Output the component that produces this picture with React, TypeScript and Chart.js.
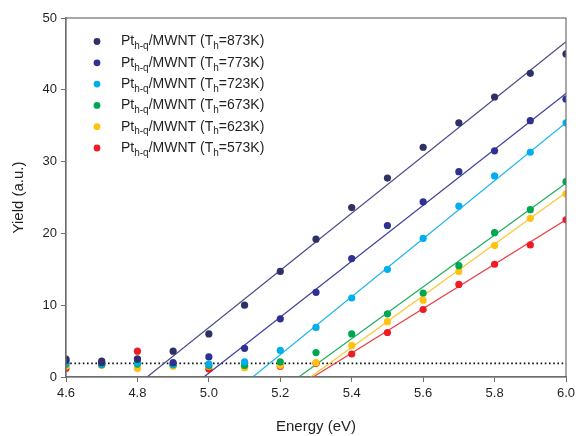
import React, { useEffect, useRef } from "react";
import { Chart, registerables } from "chart.js";

Chart.register(...registerables);

const ENERGY = [4.6, 4.7, 4.8, 4.9, 5.0, 5.1, 5.2, 5.3, 5.4, 5.5, 5.6, 5.7, 5.8, 5.9, 6.0];
const X_TICKS = [4.6, 4.8, 5.0, 5.2, 5.4, 5.6, 5.8, 6.0];
const Y_TICKS = [0, 10, 20, 30, 40, 50];

const TEMPS = ["873K", "773K", "723K", "673K", "623K", "573K"];
const COLORS = ["#2e3165", "#2e3192", "#00aeef", "#00a651", "#ffc20e", "#ed1c24"];
const LINE_COLORS = ["#4b4a86", "#3c3f9c", "#1cb5ef", "#1eae5c", "#ffc62e", "#ee3a40"];

const Y873 = [2.5, 2.2, 2.5, 3.6, 6.0, 10.0, 14.7, 19.2, 23.6, 27.7, 32.0, 35.4, 39.0, 42.3, 45.0];
const Y773 = [2.3, 2.0, 2.5, 2.0, 2.8, 4.0, 8.1, 11.8, 16.5, 21.1, 24.4, 28.6, 31.5, 35.7, 38.7];
const Y723 = [2.0, 1.8, 2.0, 1.8, 1.8, 2.1, 3.7, 6.9, 11.0, 15.0, 19.3, 23.8, 28.0, 31.3, 35.4];
const Y673 = [1.8, 1.7, 1.8, 1.7, 1.6, 1.6, 2.1, 3.4, 6.0, 8.8, 11.7, 15.5, 20.1, 23.3, 27.2];
const Y623 = [1.5, 1.6, 1.2, 1.5, 1.5, 1.3, 1.6, 2.0, 4.4, 7.7, 10.7, 14.7, 18.3, 22.1, 25.5];
const Y573 = [1.2, 1.7, 3.6, 1.6, 1.1, 1.5, 1.5, 1.9, 3.2, 6.2, 9.4, 12.9, 15.7, 18.4, 21.9];
const SERIES = [Y873, Y773, Y723, Y673, Y623, Y573];

// linear fits: [x at yield 0, yield at 6.0 eV]
const FIT_X0 = [4.827, 4.986, 5.123, 5.252, 5.285, 5.292];
const FIT_Y_END = [46.7, 39.5, 35.4, 27.0, 25.7, 21.9];

const BASELINE = 1.9;

export default function App() {
  const ref = useRef<HTMLCanvasElement | null>(null);

  useEffect(() => {
    document.body.style.margin = "0";
    const canvas = ref.current;
    if (!canvas) return;

    const datasets: any[] = [];
    SERIES.forEach((ys, i) => {
      datasets.push({
        type: "scatter",
        label: TEMPS[i],
        data: ENERGY.map((x, k) => ({ x, y: ys[k] })),
        backgroundColor: COLORS[i],
        borderColor: COLORS[i],
        pointRadius: 3.6,
        pointBorderWidth: 0,
        showLine: false,
        order: 1,
      });
    });
    SERIES.forEach((_, i) => {
      datasets.push({
        type: "line",
        label: "fit " + TEMPS[i],
        data: [
          { x: FIT_X0[i], y: 0 },
          { x: 6.0, y: FIT_Y_END[i] },
        ],
        borderColor: LINE_COLORS[i],
        borderWidth: 1.2,
        pointRadius: 0,
        fill: false,
        order: 2,
      });
    });
    datasets.push({
      type: "line",
      label: "baseline",
      data: [
        { x: 4.6, y: BASELINE },
        { x: 6.0, y: BASELINE },
      ],
      borderColor: "#111111",
      borderWidth: 1.6,
      borderDash: [1.6, 2.6],
      pointRadius: 0,
      fill: false,
      order: 3,
    });

    const framePlugin = {
      id: "frame",
      afterDraw(chart: any) {
        const { ctx, chartArea } = chart;
        const { left, right, top, bottom } = chartArea;
        ctx.save();
        ctx.strokeStyle = "#6d6e71";
        ctx.lineWidth = 1.2;
        ctx.strokeRect(left, top, right - left, bottom - top);
        ctx.restore();

        // legend
        ctx.save();
        const x0 = 97;
        const tx = 121;
        const y0 = 41.5;
        const dy = 21.3;
        TEMPS.forEach((t, i) => {
          const y = y0 + i * dy;
          ctx.fillStyle = COLORS[i];
          ctx.beginPath();
          ctx.arc(x0, y, 3.4, 0, Math.PI * 2);
          ctx.fill();
          ctx.fillStyle = "#231f20";
          ctx.textBaseline = "middle";
          ctx.textAlign = "left";
          const big = "14px 'Liberation Sans', Arial, sans-serif";
          const small = "10px 'Liberation Sans', Arial, sans-serif";
          let x = tx;
          const parts: [string, boolean][] = [
            ["Pt", false],
            ["h-q", true],
            ["/MWNT (T", false],
            ["h", true],
            ["=" + t + ")", false],
          ];
          parts.forEach(([s, sub]) => {
            ctx.font = sub ? small : big;
            ctx.fillText(s, x, sub ? y + 5 : y);
            x += ctx.measureText(s).width;
          });
        });
        ctx.restore();
      },
    };

    const tickFont = { family: "'Liberation Sans', Arial, sans-serif", size: 13 };
    const titleFont = { family: "'Liberation Sans', Arial, sans-serif", size: 15 };

    const chart = new Chart(canvas, {
      type: "scatter",
      data: { datasets },
      plugins: [framePlugin],
      options: {
        animation: false,
        responsive: false,
        maintainAspectRatio: false,
        layout: { padding: { top: 18, right: 10, left: 0, bottom: 0 } },
        plugins: { legend: { display: false }, tooltip: { enabled: false } },
        scales: {
          x: {
            type: "linear",
            min: 4.6,
            max: 6.0,
            afterBuildTicks: (scale: any) => {
              scale.ticks = X_TICKS.map((v) => ({ value: v }));
            },
            afterFit: (scale: any) => {
              scale.height = 59;
              scale.paddingLeft = 0;
              scale.paddingRight = 0;
            },
            ticks: {
              callback: (v: any) => Number(v).toFixed(1),
              color: "#231f20",
              font: tickFont,
              padding: 4,
              maxRotation: 0,
            },
            grid: {
              display: true,
              drawOnChartArea: false,
              drawTicks: true,
              tickLength: 5,
              color: "#6d6e71",
            },
            border: { display: true, color: "#6d6e71", width: 1.2 },
            title: {
              display: true,
              text: "Energy (eV)",
              color: "#231f20",
              font: titleFont,
              padding: { top: 0, bottom: 0 },
            },
          },
          y: {
            type: "linear",
            min: 0,
            max: 50,
            afterBuildTicks: (scale: any) => {
              scale.ticks = Y_TICKS.map((v) => ({ value: v }));
            },
            afterFit: (scale: any) => {
              scale.width = 66;
              scale.paddingTop = 0;
              scale.paddingBottom = 0;
            },
            ticks: {
              color: "#231f20",
              font: tickFont,
              padding: 4,
            },
            grid: {
              display: true,
              drawOnChartArea: false,
              drawTicks: true,
              tickLength: 5,
              color: "#6d6e71",
            },
            border: { display: true, color: "#6d6e71", width: 1.2 },
            title: {
              display: true,
              text: "Yield (a.u.)",
              color: "#231f20",
              font: titleFont,
              padding: { top: 10, bottom: 0 },
            },
          },
        },
      },
    } as any);

    return () => chart.destroy();
  }, []);

  return (
    <div style={{ position: "absolute", left: 0, top: 0, width: 576, height: 436 }}>
      <canvas ref={ref} width={576} height={436} style={{ width: 576, height: 436 }} />
    </div>
  );
}
